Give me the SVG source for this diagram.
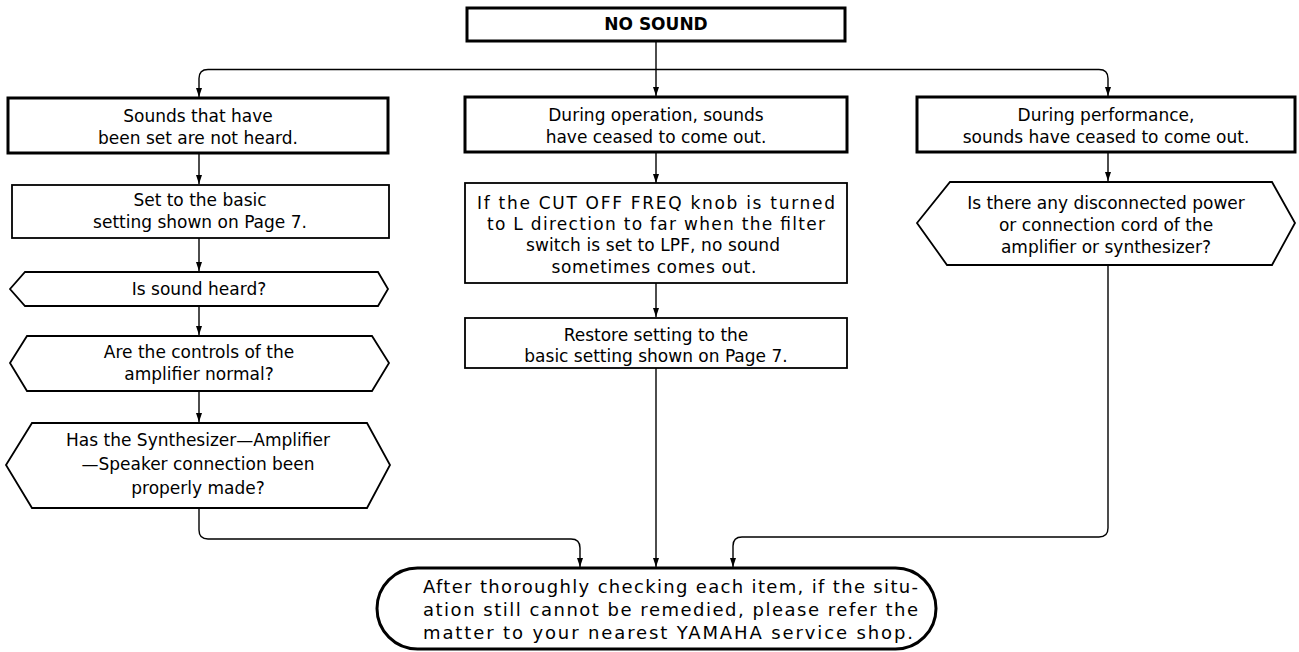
<svg xmlns="http://www.w3.org/2000/svg" width="1299" height="652" viewBox="0 0 1299 652">
<style>
.thick{fill:#fff;stroke:#000;stroke-width:3}
.thin{fill:#fff;stroke:#000;stroke-width:1.8}
.t{font-family:"DejaVu Sans","Liberation Sans",sans-serif;font-size:17px;fill:#000;text-anchor:middle}
.b{font-weight:bold}
.s{text-anchor:start;font-size:18px}
.c{fill:none;stroke:#000;stroke-width:1.4}
</style>
<defs>
<marker id="ad" markerUnits="userSpaceOnUse" markerWidth="6" markerHeight="10" refX="3" refY="9" orient="0" viewBox="0 0 6 10">
<path d="M0,0 L6,0 L3,9 Z" fill="#000"/>
</marker>
</defs>
<rect width="1299" height="652" fill="#fff"/>
<g id="connectors">
<path class="c" d="M656,41 V96" marker-end="url(#ad)"/>
<path class="c" d="M656,69.5 H208 Q199,69.5 199,78.5 V97" marker-end="url(#ad)"/>
<path class="c" d="M656,69.5 H1099 Q1108,69.5 1108,78.5 V96" marker-end="url(#ad)"/>
<path class="c" d="M199,153 V184" marker-end="url(#ad)"/>
<path class="c" d="M199,238 V271" marker-end="url(#ad)"/>
<path class="c" d="M199,306 V335" marker-end="url(#ad)"/>
<path class="c" d="M199,391 V422" marker-end="url(#ad)"/>
<path class="c" d="M199,508 V530 Q199,539 208,539 H571 Q580,539 580,548 V567" marker-end="url(#ad)"/>
<path class="c" d="M656,152 V183" marker-end="url(#ad)"/>
<path class="c" d="M656,283 V317" marker-end="url(#ad)"/>
<path class="c" d="M656,368 V567" marker-end="url(#ad)"/>
<path class="c" d="M1108,152 V181" marker-end="url(#ad)"/>
<path class="c" d="M1108,265 V528 Q1108,537 1099,537 H742 Q733,537 733,546 V567" marker-end="url(#ad)"/>
</g>
<g id="no-sound">
<rect class="thick" x="467" y="8" width="378" height="33"/>
<text class="t b" x="656" y="30">NO SOUND</text>
</g>
<g id="not-heard">
<rect class="thick" x="8" y="98" width="380" height="55"/>
<text class="t" x="198" y="122">Sounds that have</text>
<text class="t" x="198" y="144">been set are not heard.</text>
</g>
<g id="during-operation">
<rect class="thick" x="465" y="97" width="382" height="55"/>
<text class="t" x="656" y="121">During operation, sounds</text>
<text class="t" x="656" y="143">have ceased to come out.</text>
</g>
<g id="during-performance">
<rect class="thick" x="917" y="97" width="378" height="55"/>
<text class="t" x="1106" y="121">During performance,</text>
<text class="t" x="1106" y="143">sounds have ceased to come out.</text>
</g>
<g id="set-basic">
<rect class="thin" x="12" y="185" width="377" height="53"/>
<text class="t" x="200" y="206">Set to the basic</text>
<text class="t" x="200" y="228">setting shown on Page 7.</text>
</g>
<g id="sound-heard">
<polygon class="thin" points="10,289 25,272 378,272 388,289 378,306 25,306"/>
<text class="t" x="199" y="295">Is sound heard?</text>
</g>
<g id="controls-normal">
<polygon class="thin" points="10,363 27,336 372,336 389,363 372,391 27,391"/>
<text class="t" x="199" y="358">Are the controls of the</text>
<text class="t" x="199" y="380">amplifier normal?</text>
</g>
<g id="connection-made">
<polygon class="thin" points="6,465 32,423 367,423 390,465 367,508 32,508"/>
<text class="t" x="198" y="446">Has the Synthesizer—Amplifier</text>
<text class="t" x="198" y="470">—Speaker connection been</text>
<text class="t" x="198" y="494">properly made?</text>
</g>
<g id="cutoff">
<rect class="thin" x="465" y="183" width="382" height="100"/>
<text class="t" x="656" y="209" textLength="358" lengthAdjust="spacing">If the CUT OFF FREQ knob is turned</text>
<text class="t" x="656" y="230" textLength="338" lengthAdjust="spacing">to L direction to far when the filter</text>
<text class="t" x="653" y="251" textLength="254" lengthAdjust="spacing">switch is set to LPF, no sound</text>
<text class="t" x="654" y="273" textLength="205" lengthAdjust="spacing">sometimes comes out.</text>
</g>
<g id="restore">
<rect class="thin" x="465" y="318" width="382" height="50"/>
<text class="t" x="656" y="341">Restore setting to the</text>
<text class="t" x="656" y="362">basic setting shown on Page 7.</text>
</g>
<g id="disconnected">
<polygon class="thin" points="917,223 950,182 1272,182 1295,223 1272,265 947,265"/>
<text class="t" x="1106" y="209">Is there any disconnected power</text>
<text class="t" x="1106" y="231">or connection cord of the</text>
<text class="t" x="1106" y="253">amplifier or synthesizer?</text>
</g>
<g id="refer-service">
<rect class="thick" x="377" y="568" width="559" height="81" rx="40.5"/>
<text class="t s" x="423" y="593" textLength="495" lengthAdjust="spacing">After thoroughly checking each item, if the situ-</text>
<text class="t s" x="423" y="616" textLength="495" lengthAdjust="spacing">ation still cannot be remedied, please refer the</text>
<text class="t s" x="423" y="639" textLength="490" lengthAdjust="spacing">matter to your nearest YAMAHA service shop.</text>
</g>
</svg>
